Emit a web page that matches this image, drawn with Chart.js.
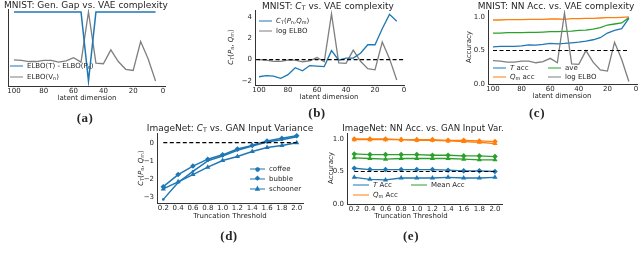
<!DOCTYPE html>
<html><head><meta charset="utf-8">
<script src="https://cdn.jsdelivr.net/npm/chart.js@4.4.0/dist/chart.umd.min.js"></script>
<style>
body{margin:0;background:#fff;width:640px;height:255px;overflow:hidden;position:relative;font-family:'DejaVu Sans',sans-serif;color:#262626}
canvas{position:absolute}
.t{position:absolute;white-space:nowrap;transform:translate(-50%,-50%);line-height:1}
.ttl{font-size:9px}
.lab{font-size:7px}
.ylab{font-size:7px;transform:translate(-50%,-50%) rotate(-90deg)}
.cap{font-family:'Liberation Serif',serif;font-weight:bold;font-size:13px;letter-spacing:0.5px}
.leg{position:absolute;white-space:nowrap;font-size:7px;line-height:1;transform:translateY(-50%);display:flex;align-items:center}
.sw{display:inline-block;width:13px;height:0;border-top:1.5px solid;margin-right:4px;position:relative}
.mk{position:absolute;left:50%;top:-1px;transform:translate(-50%,-50%);font-size:6px;line-height:1}
sub{font-size:70%;vertical-align:-0.3em;line-height:0}
</style></head><body>

<canvas id="chA"></canvas>
<canvas id="chB"></canvas>
<canvas id="chC"></canvas>
<canvas id="chD"></canvas>
<canvas id="chE"></canvas>

<!-- titles -->
<div class="t ttl" style="left:86px;top:5px">MNIST: Gen. Gap vs. VAE complexity</div>
<div class="t ttl" style="left:328px;top:6px">MNIST: <i>C</i><sub>T</sub> vs. VAE complexity</div>
<div class="t ttl" style="left:556px;top:6px">MNIST: NN Acc. vs. VAE complexity</div>
<div class="t ttl" style="left:230px;top:128px">ImageNet: <i>C</i><sub>T</sub> vs. GAN Input Variance</div>
<div class="t ttl" style="left:423px;top:128px;font-size:8.6px">ImageNet: NN Acc. vs. GAN Input Var.</div>

<!-- axis labels -->
<div class="t lab" style="left:87px;top:98px">latent dimension</div>
<div class="t lab" style="left:329px;top:97px">latent dimension</div>
<div class="t lab" style="left:562px;top:96px">latent dimension</div>
<div class="t lab" style="left:230px;top:216px">Truncation Threshold</div>
<div class="t lab" style="left:411px;top:216px">Truncation Threshold</div>
<div class="t ylab" style="left:231px;top:47px"><i>C</i><sub>T</sub>(<i>P</i><sub>n</sub>, <i>Q</i><sub>m</sub>)</div>
<div class="t ylab" style="left:469px;top:47px">Accuracy</div>
<div class="t ylab" style="left:141px;top:168px"><i>C</i><sub>T</sub>(<i>P</i><sub>n</sub>, <i>Q</i><sub>m</sub>)</div>
<div class="t ylab" style="left:331px;top:168px">Accuracy</div>

<!-- captions -->
<div class="t cap" style="left:85px;top:117px">(a)</div>
<div class="t cap" style="left:317px;top:112px">(b)</div>
<div class="t cap" style="left:537px;top:112px">(c)</div>
<div class="t cap" style="left:229px;top:235px">(d)</div>
<div class="t cap" style="left:411px;top:235px">(e)</div>

<!-- legends -->
<div class="leg" style="left:10px;top:66px"><span class="sw" style="color:#1f77b4"></span>ELBO(T) - ELBO(P<sub>n</sub>)</div>
<div class="leg" style="left:10px;top:77px"><span class="sw" style="color:#7f7f7f"></span>ELBO(V<sub>n</sub>)</div>

<div class="leg" style="left:259px;top:21px"><span class="sw" style="color:#1f77b4"></span><i>C</i><sub>T</sub>(<i>P</i><sub>n</sub>, <i>Q</i><sub>m</sub>)</div>
<div class="leg" style="left:259px;top:31px"><span class="sw" style="color:#7f7f7f"></span>log ELBO</div>

<div class="leg" style="left:493px;top:68px"><span class="sw" style="color:#1f77b4"></span><i>T</i>&nbsp;acc</div>
<div class="leg" style="left:548px;top:68px"><span class="sw" style="color:#2ca02c"></span>ave</div>
<div class="leg" style="left:493px;top:77px"><span class="sw" style="color:#ff7f0e"></span><i>Q</i><sub>m</sub>&nbsp;acc</div>
<div class="leg" style="left:548px;top:77px"><span class="sw" style="color:#7f7f7f"></span>log ELBO</div>

<div class="leg" style="left:250px;top:169px"><span class="sw" style="color:#1f77b4;width:15px"><span class="mk">&#9679;</span></span>coffee</div>
<div class="leg" style="left:250px;top:179px"><span class="sw" style="color:#1f77b4;width:15px"><span class="mk" style="font-size:7px">&#9670;</span></span>bubble</div>
<div class="leg" style="left:250px;top:189px"><span class="sw" style="color:#1f77b4;width:15px"><span class="mk" style="font-size:7px">&#9650;</span></span>schooner</div>

<div class="leg" style="left:353px;top:185px"><span class="sw" style="color:#1f77b4;width:16px"></span><i>T</i>&nbsp;Acc</div>
<div class="leg" style="left:411px;top:185px"><span class="sw" style="color:#2ca02c;width:16px"></span>Mean Acc</div>
<div class="leg" style="left:353px;top:195px"><span class="sw" style="color:#ff7f0e;width:16px"></span><i>Q</i><sub>m</sub>&nbsp;Acc</div>

<script>
// ---- data ----
var latentDims = [100,95,90,85,80,75,70,65,60,55,50,45,40,35,30,25,20,15,10,5];
var latentTicks = [100,80,60,40,20,0];

// (a) generalization gap (normalised) and ELBO
var genGap = [1,1,1,1,1,1,1,1,1,1,0,1,1,1,1,1,1,1,1,1];
var logElbo = [0.0,-0.05,-0.15,-0.15,-0.05,-0.05,-0.2,-0.1,0.2,-0.2,4.3,-0.3,-0.35,0.9,-0.15,-0.85,-0.95,1.65,0.1,-1.9];

// (b) C_T score
var ctScore = [-1.6,-1.5,-1.55,-1.75,-1.4,-0.75,-1.05,-0.55,-0.6,-0.65,0.85,-0.05,0.15,0.15,0.6,1.4,1.4,2.9,4.25,3.6];
var ctTicksB = [4,2,0,-2];

// (c) NN accuracies
var tAcc   = [0.555,0.56,0.56,0.56,0.57,0.585,0.58,0.59,0.605,0.60,0.605,0.615,0.625,0.64,0.66,0.69,0.76,0.80,0.825,0.98];
var qAcc   = [0.955,0.955,0.96,0.96,0.96,0.965,0.965,0.965,0.97,0.97,0.965,0.975,0.975,0.98,0.98,0.985,0.99,0.99,0.995,1.0];
var aveAcc = [0.76,0.76,0.765,0.765,0.765,0.77,0.77,0.775,0.78,0.78,0.785,0.79,0.80,0.805,0.82,0.84,0.88,0.895,0.91,0.99];
var accTicks = [0,0.5,1.0];

// (d) ImageNet C_T vs truncation
var truncation = [0.2,0.4,0.6,0.8,1.0,1.2,1.4,1.6,1.8,2.0];
var ctCoffee   = [-3.13,-2.2,-1.58,-1.0,-0.73,-0.42,-0.18,0.04,0.16,0.33];
var ctBubble   = [-2.43,-1.76,-1.29,-0.91,-0.67,-0.35,-0.15,0.09,0.24,0.38];
var ctSchooner = [-2.55,-2.16,-1.76,-1.35,-0.98,-0.76,-0.49,-0.27,-0.16,0.0];
var ctTicksD = [0,-1,-2,-3];

// (e) ImageNet accuracies
var tAccBubble     = [0.55,0.53,0.53,0.53,0.53,0.53,0.52,0.51,0.51,0.50];
var tAccSchooner   = [0.41,0.38,0.37,0.40,0.40,0.40,0.41,0.40,0.40,0.41];
var meanAccBubble  = [0.77,0.76,0.76,0.76,0.76,0.75,0.75,0.74,0.74,0.73];
var meanAccSchooner= [0.71,0.70,0.69,0.70,0.70,0.70,0.70,0.69,0.68,0.68];
var qAccBubble     = [1.0,1.0,1.0,0.99,0.99,0.99,0.98,0.98,0.97,0.96];
var qAccSchooner   = [0.99,0.99,0.99,0.99,0.98,0.98,0.97,0.96,0.95,0.93];

// dashed reference lines: [level, from, to]
var refB = [0, 102, 0];
var refC = [0.5, 100, 5];
var refD = [0, 0.2, 2.0];
var refE = [0.5, 0.2, 2.0];

// ---- styling ----
var colors = {blue:'#1f77b4', orange:'#ff7f0e', green:'#2ca02c', grey:'#7f7f7f'};
Chart.defaults.font.family = 'DejaVu Sans';
Chart.defaults.font.size = 7;
Chart.defaults.color = '#262626';

function pts(xs, ys) { return xs.map(function (x, i) { return {x: x, y: ys[i]}; }); }

function line(data, color, extra) {
  return Object.assign({data: data, borderColor: color, backgroundColor: color, borderWidth: 1.3,
    pointRadius: 0, tension: 0, fill: false}, extra || {});
}
function refLine(r, axis) {
  return line([{x: r[1], y: r[0]}, {x: r[2], y: r[0]}], '#000', {borderDash: [4, 2.5], borderWidth: 1.2, yAxisID: axis || 'y'});
}

function axis(min, max, ticks, fmt, extra) {
  return Object.assign({
    type: 'linear', min: min, max: max,
    grid: {display: false, drawTicks: false, tickLength: 0},
    border: {display: true, color: '#333', width: 1},
    ticks: {padding: 2, autoSkip: false, maxRotation: 0, callback: fmt},
    afterBuildTicks: function (s) { s.ticks = ticks.map(function (v) { return {value: v}; }); }
  }, extra || {});
}
function hidden(min, max) { return {type: 'linear', display: false, min: min, max: max}; }

var intFmt = function (v) { return v < 0 ? '\u2212' + Math.abs(v) : String(v); };
var oneDec = function (v) { return v.toFixed(1); };

function panel(id, rect, area, scales, datasets) {
  var cv = document.getElementById(id);
  cv.width = rect.w; cv.height = rect.h;
  cv.style.left = rect.x + 'px'; cv.style.top = rect.y + 'px';
  scales.x.afterFit = function (s) { s.height = rect.y + rect.h - area.y1; };
  scales.y.afterFit = function (s) { s.width = area.x0 - rect.x; };
  new Chart(cv, {
    type: 'line',
    data: {datasets: datasets},
    options: {
      responsive: false, animation: false,
      layout: {padding: {top: area.y0 - rect.y, right: rect.x + rect.w - area.x1, left: 0, bottom: 0}},
      plugins: {legend: {display: false}, tooltip: {enabled: false}},
      scales: scales
    }
  });
}

// (a)
panel('chA', {x: 0, y: 0, w: 178, h: 105}, {x0: 8, y0: 9, x1: 165, y1: 86}, {
  x: axis(-1.34, 104, latentTicks, intFmt, {reverse: true, ticks: {padding: 1, autoSkip: false, maxRotation: 0}}),
  y: axis(-2.35, 4.57, [], intFmt, {ticks: {display: false}}),
  yGap: hidden(-0.072, 1.043)
}, [
  line(pts(latentDims, genGap), colors.blue, {yAxisID: 'yGap', borderWidth: 1.5}),
  line(pts(latentDims, logElbo), colors.grey)
]);

// (b)
panel('chB', {x: 230, y: 0, w: 185, h: 105}, {x0: 255, y0: 10, x1: 404, y1: 85}, {
  x: axis(0, 102.76, latentTicks, intFmt, {reverse: true, ticks: {padding: 1, autoSkip: false, maxRotation: 0}}),
  y: axis(-2.375, 4.66, ctTicksB, intFmt, {ticks: {padding: 3, callback: intFmt}})
}, [
  refLine(refB),
  line(pts(latentDims, ctScore), colors.blue),
  line(pts(latentDims, logElbo), colors.grey)
]);

// (c)
panel('chC', {x: 455, y: 0, w: 185, h: 105}, {x0: 488, y0: 10, x1: 637, y1: 84}, {
  x: axis(-0.7, 103.5, latentTicks, intFmt, {reverse: true, ticks: {padding: 1, autoSkip: false, maxRotation: 0}}),
  y: axis(0, 1.104, accTicks, oneDec, {ticks: {padding: 3, callback: oneDec}}),
  yElbo: hidden(-2.12, 4.57)
}, [
  refLine(refC),
  line(pts(latentDims, logElbo), colors.grey, {yAxisID: 'yElbo'}),
  line(pts(latentDims, tAcc), colors.blue),
  line(pts(latentDims, aveAcc), colors.green),
  line(pts(latentDims, qAcc), colors.orange)
]);

// (d)
var mk = {
  coffee:   {pointStyle: 'circle', pointRadius: 1.3, pointBorderWidth: 0},
  bubble:   {pointStyle: 'rectRot', pointRadius: 2.8, pointBorderWidth: 0},
  schooner: {pointStyle: 'triangle', pointRadius: 3, pointBorderWidth: 0}
};
panel('chD', {x: 130, y: 125, w: 185, h: 95}, {x0: 157, y0: 133, x1: 303, y1: 203}, {
  x: axis(0.115, 2.085, truncation, oneDec, {ticks: {padding: 1, autoSkip: false, maxRotation: 0, callback: oneDec}}),
  y: axis(-3.33, 0.536, ctTicksD, intFmt, {ticks: {padding: 3, callback: intFmt}})
}, [
  refLine(refD),
  line(pts(truncation, ctCoffee), colors.blue, Object.assign({borderWidth: 1.5}, mk.coffee)),
  line(pts(truncation, ctBubble), colors.blue, Object.assign({borderWidth: 1.5}, mk.bubble)),
  line(pts(truncation, ctSchooner), colors.blue, Object.assign({borderWidth: 1.5}, mk.schooner))
]);

// (e)
panel('chE', {x: 318, y: 125, w: 195, h: 95}, {x0: 347, y0: 133, x1: 502, y1: 204}, {
  x: axis(0.107, 2.09, truncation, oneDec, {ticks: {padding: 1, autoSkip: false, maxRotation: 0, callback: oneDec}}),
  y: axis(0, 1.092, accTicks, oneDec, {ticks: {padding: 3, callback: oneDec}})
}, [
  refLine(refE),
  line(pts(truncation, tAccBubble), colors.blue, mk.bubble),
  line(pts(truncation, tAccSchooner), colors.blue, mk.schooner),
  line(pts(truncation, meanAccBubble), colors.green, mk.bubble),
  line(pts(truncation, meanAccSchooner), colors.green, mk.schooner),
  line(pts(truncation, qAccBubble), colors.orange, mk.bubble),
  line(pts(truncation, qAccSchooner), colors.orange, mk.schooner)
]);
</script>
</body></html>
